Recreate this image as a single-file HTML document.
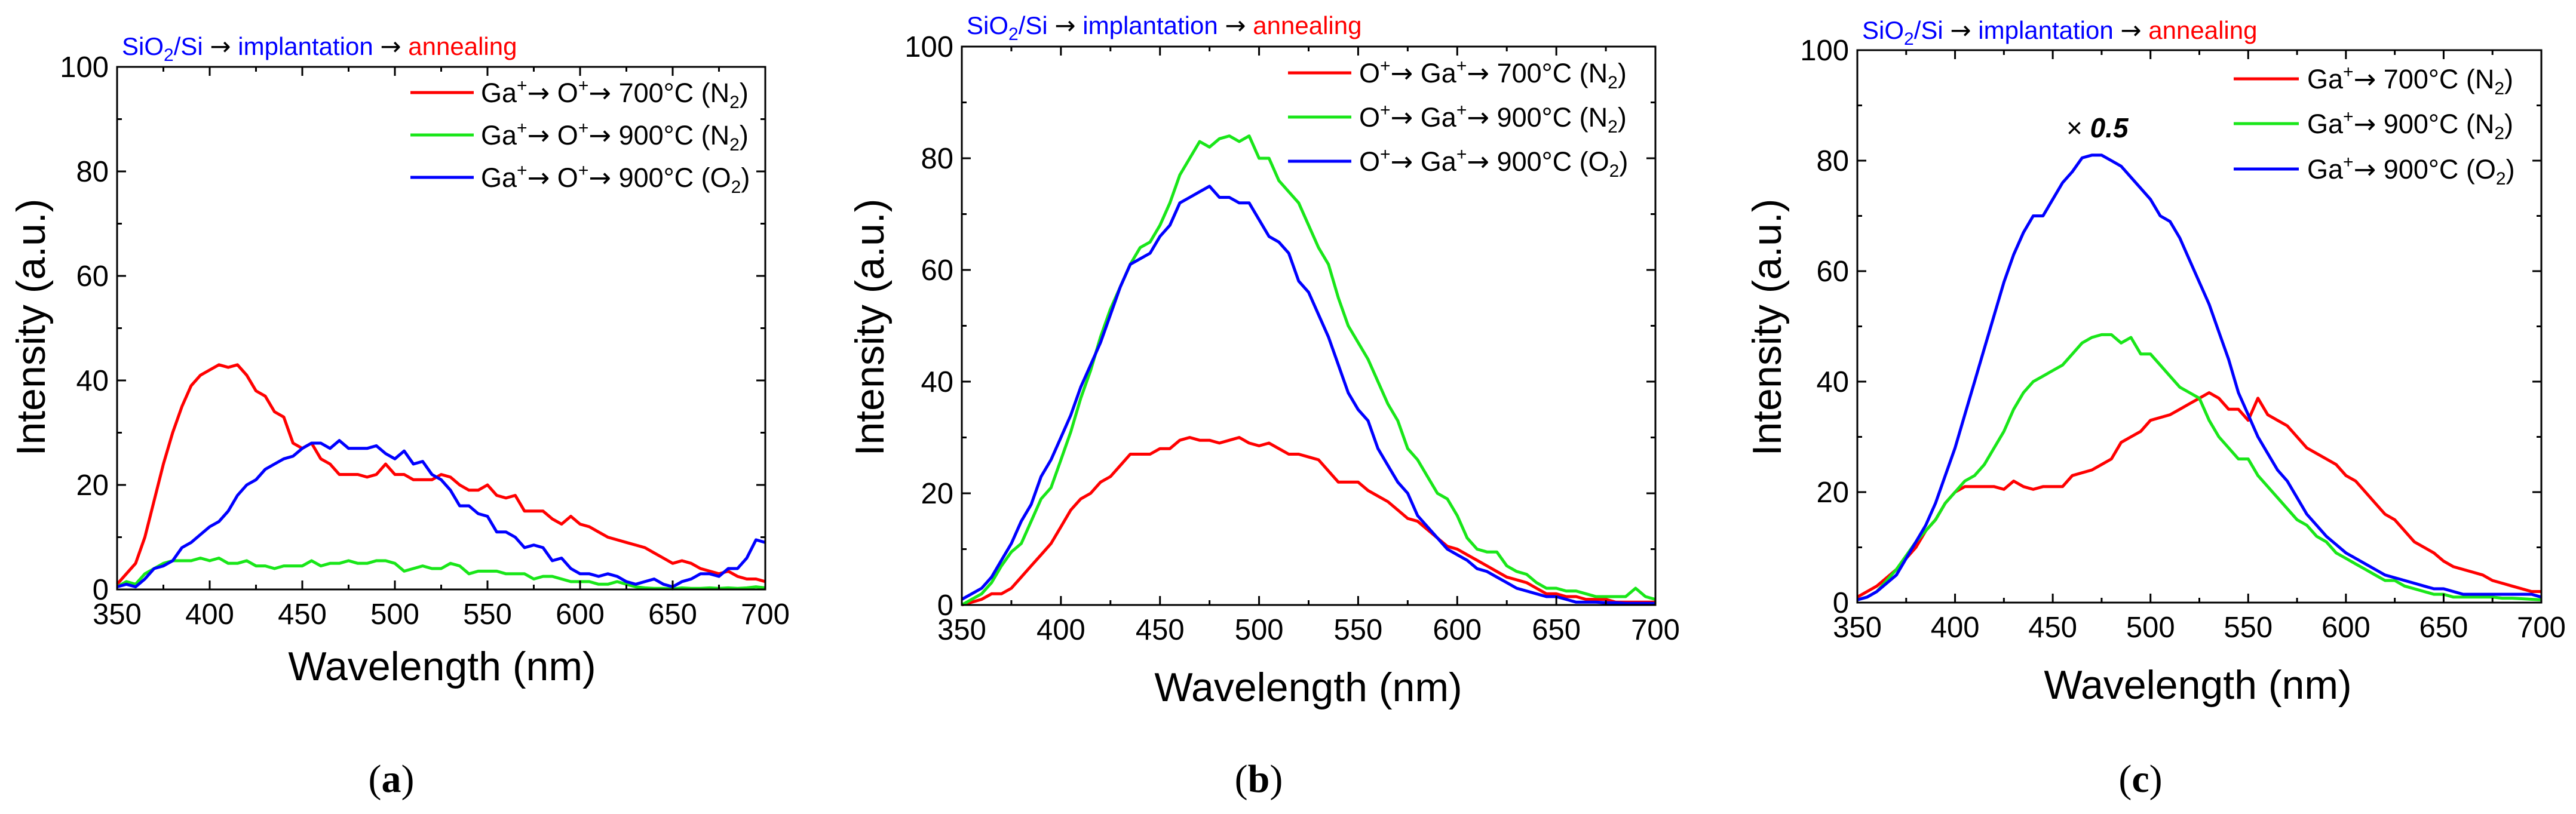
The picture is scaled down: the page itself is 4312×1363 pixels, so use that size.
<!DOCTYPE html>
<html><head><meta charset="utf-8"><style>
html,body{margin:0;padding:0;background:#fff;}
svg{display:block;font-family:"Liberation Sans",sans-serif;}
</style></head><body>
<svg id="fig" width="4312" height="1363" viewBox="0 0 4312 1363" xmlns="http://www.w3.org/2000/svg"></svg>
<script>
const wavelengths=[350,355,360,365,370,375,380,385,390,395,400,405,410,415,420,425,430,435,440,445,450,455,460,465,470,475,480,485,490,495,500,505,510,515,520,525,530,535,540,545,550,555,560,565,570,575,580,585,590,595,600,605,610,615,620,625,630,635,640,645,650,655,660,665,670,675,680,685,690,695,700];
const xTicks=[350,400,450,500,550,600,650,700];
const yTicks=[0,20,40,60,80,100];
// panel a
const aRed=[1,3,5,10,17,24,30,35,39,41,42,43,42.5,43,41,38,37,34,33,28,27,28,25,24,22,22,22,21.5,22,24,22,22,21,21,21,22,21.5,20,19,19,20,18,17.5,18,15,15,15,13.5,12.5,14,12.5,12,11,10,9.5,9,8.5,8,7,6,5,5.5,5,4,3.5,3,3.5,2.5,2,2,1.5];
const aGreen=[0.5,1.5,1,3,4,5,5.5,5.5,5.5,6,5.5,6,5,5,5.5,4.5,4.5,4,4.5,4.5,4.5,5.5,4.5,5,5,5.5,5,5,5.5,5.5,5,3.5,4,4.5,4,4,5,4.5,3,3.5,3.5,3.5,3,3,3,2,2.5,2.5,2,1.5,1.5,1.5,1,1,1.5,1,0.5,0.3,0.2,0.2,0.1,0.3,0.2,0.2,0.3,0.2,0.3,0.2,0.3,0.5,0.3];
const aBlue=[0.5,1,0.5,2,4,4.5,5.5,8,9,10.5,12,13,15,18,20,21,23,24,25,25.5,27,28,28,27,28.5,27,27,27,27.5,26,25,26.5,24,24.5,22,21,19,16,16,14.5,14,11,11,10,8,8.5,8,5.5,6,4,3,3,2.5,3,2.5,1.5,1,1.5,2,1,0.5,1.5,2,3,3,2.5,4,4,6,9.5,9];
// panel b
const bRed=[0,0.5,1,2,2,3,5,7,9,11,14,17,19,20,22,23,25,27,27,27,28,28,29.5,30,29.5,29.5,29,29.5,30,29,28.5,29,28,27,27,26.5,26,24,22,22,22,20.5,19.5,18.5,17,15.5,15,13.5,12,10.5,10,9,8,7,6,5,4.5,4,3,2,2,1.5,1.5,1,1,1,0.5,0.5,0.5,0.5,0.5];
const bGreen=[0,1,2,4,7,9.5,11,15,19,21,26,31,37,42,48,53,57,61,64,65,68,72,77,80,83,82,83.5,84,83,84,80,80,76,74,72,68,64,61,55,50,47,44,40,36,33,28,26,23,20,19,16,12,10,9.5,9.5,7,6,5.5,4,3,3,2.5,2.5,2,1.5,1.5,1.5,1.5,3,1.5,1];
const bBlue=[1,2,3,5,8,11,15,18,23,26,30,34,39,43,47,52,57,61,62,63,66,68,72,73,74,75,73,73,72,72,69,66,65,63,58,56,52,48,43,38,35,33,28,25,22,20,16,14,12,10,9,8,6.5,6,5,4,3,2.5,2,1.5,1.5,1,0.5,0.5,0.5,0.4,0.4,0.3,0.3,0.3,0.3];
// panel c
const cRed=[1,2,3,4.5,6,8,10,13,15,18,20,21,21,21,21,20.5,22,21,20.5,21,21,21,23,23.5,24,25,26,29,30,31,33,33.5,34,35,36,37,38,37,35,35,33,37,34,33,32,30,28,27,26,25,23,22,20,18,16,15,13,11,10,9,7.5,6.5,6,5.5,5,4,3.5,3,2.5,2,2];
const cGreen=[0.5,1,2,4,6,8.5,11,13,15,18,20,22,23,25,28,31,35,38,40,41,42,43,45,47,48,48.5,48.5,47,48,45,45,43,41,39,38,37,33,30,28,26,26,23,21,19,17,15,14,12,11,9,8,7,6,5,4,4,3,2.5,2,1.5,1.5,1,1,1,1,1,0.8,0.8,0.7,0.6,0.5];
const cBlue=[0.5,1,2,3.5,5,8,11,14,18,23,28,34,40,46,52,58,63,67,70,70,73,76,78,80.5,81,81,80,79,77,75,73,70,69,66,62,58,54,49,44,38,34,30,27,24,22,19,16,14,12,10.5,9,8,7,6,5,4.5,4,3.5,3,2.5,2.5,2,1.5,1.5,1.5,1.5,1.5,1.5,1.5,1.5,1];

const NS="http://www.w3.org/2000/svg";
const svg=document.getElementById('fig');
function mk(tag,attrs,parent){const e=document.createElementNS(NS,tag);for(const k in attrs)e.setAttribute(k,attrs[k]);(parent||svg).appendChild(e);return e;}
const RED="#ff0000",GREEN="#19e619",BLUE="#0000ff";
const ARR='<tspan font-family="DejaVu Sans, sans-serif">→</tspan>';

const panels=[
 {id:'a',L:196,R:1281,T:112,B:987,title:[204,92],xl:[740,1139],pl:[655,1326],yl:[51,548],
  leg:{x1:687,x2:793,tx:805,ys:[155,226,297],labels:[['Ga','O','700'],['Ga','O','900'],['Ga','O','900']]},
  series:[aRed,aGreen,aBlue]},
 {id:'b',L:1610,R:2771,T:78,B:1013,title:[1618,57],xl:[2190,1174],pl:[2107,1326],yl:[1455,548],
  leg:{x1:2156,x2:2262,tx:2275,ys:[122,196,270],labels:[['O','Ga','700'],['O','Ga','900'],['O','Ga','900']]},
  series:[bRed,bGreen,bBlue]},
 {id:'c',L:3109,R:4254,T:84,B:1009,title:[3117,65],xl:[3679,1170],pl:[3583,1326],yl:[2957,548],
  leg:{x1:3739,x2:3848,tx:3862,ys:[132,207,283],labels:[['Ga',null,'700'],['Ga',null,'900'],['Ga',null,'900']]},
  series:[cRed,cGreen,cBlue]}
];
const gases=['N','N','O'];
const colors=[RED,GREEN,BLUE];
const seriesNames=['series-700c-n2','series-900c-n2','series-900c-o2'];

panels.forEach(p=>{
  const g=mk('g',{});
  
  
  const xs=v=>p.L+(v-350)/350*(p.R-p.L);
  const ys=v=>p.B-v/100*(p.B-p.T);
  p.series.forEach((arr,i)=>{
    let d='';
    arr.forEach((v,j)=>{d+=(j?'L':'M')+xs(wavelengths[j]).toFixed(1)+','+ys(v).toFixed(1);});
    const path=mk('path',{d:d,fill:'none',stroke:colors[i],'stroke-width':5,'stroke-linejoin':'round'},g);
    
    
  });
  const fr=mk('rect',{x:p.L,y:p.T,width:p.R-p.L,height:p.B-p.T,fill:'none',stroke:'#000','stroke-width':3},g);
  
  
  for(let v=350;v<=700;v+=25){
    const maj=(v%50===0);const len=maj?15:8;const x=xs(v);
    mk('line',{x1:x,y1:p.B,x2:x,y2:p.B-len,stroke:'#000','stroke-width':3},g);
    mk('line',{x1:x,y1:p.T,x2:x,y2:p.T+len,stroke:'#000','stroke-width':3},g);
  }
  xTicks.forEach(v=>{
    const t=mk('text',{x:xs(v),y:p.B+58,'font-size':49,'text-anchor':'middle',fill:'#000'},g);
    t.textContent=v;
    
    
  });
  for(let v=0;v<=100;v+=10){
    const maj=(v%20===0);const len=maj?15:8;const y=ys(v);
    mk('line',{x1:p.L,y1:y,x2:p.L+len,y2:y,stroke:'#000','stroke-width':3},g);
    mk('line',{x1:p.R,y1:y,x2:p.R-len,y2:y,stroke:'#000','stroke-width':3},g);
  }
  yTicks.forEach(v=>{
    const t=mk('text',{x:p.L-14,y:ys(v)+17,'font-size':49,'text-anchor':'end',fill:'#000'},g);
    t.textContent=v;
    
    
  });
  const xt=mk('text',{x:p.xl[0],y:p.xl[1],'font-size':68,'text-anchor':'middle',fill:'#000'},g);
  xt.textContent='Wavelength (nm)';
  
  
  const yt=mk('text',{x:0,y:0,'font-size':68,'text-anchor':'middle',fill:'#000',transform:'translate('+(p.yl[0]+24)+','+p.yl[1]+') rotate(-90)'},g);
  yt.textContent='Intensity (a.u.)';
  
  
  const pl=mk('text',{x:p.pl[0],y:p.pl[1],'font-size':66,'text-anchor':'middle',fill:'#000','font-family':'Liberation Serif, serif'},g);
  pl.innerHTML='(<tspan font-weight="bold">'+p.id+'</tspan>)';
  
  
  const tt=mk('text',{x:p.title[0],y:p.title[1],'font-size':42,fill:BLUE},g);
  tt.innerHTML='SiO<tspan font-size="30" dy="10">2</tspan><tspan dy="-10">/Si </tspan><tspan fill="#000" font-family="DejaVu Sans, sans-serif">→</tspan> implantation <tspan fill="#000" font-family="DejaVu Sans, sans-serif">→</tspan> <tspan fill="'+RED+'">annealing</tspan>';
  
  
  p.leg.ys.forEach((y,i)=>{
    const ln=mk('line',{x1:p.leg.x1,y1:y,x2:p.leg.x2,y2:y,stroke:colors[i],'stroke-width':5},g);
    
    
    const lab=p.leg.labels[i];
    const t=mk('text',{x:p.leg.tx,y:y+16,'font-size':45,fill:'#000'},g);
    let h=lab[0]+'<tspan font-size="30" dy="-18">+</tspan><tspan dy="18">'+ARR+' </tspan>';
    if(lab[1])h+=lab[1]+'<tspan font-size="30" dy="-18">+</tspan><tspan dy="18">'+ARR+' </tspan>';
    h+=lab[2]+'°C ('+gases[i]+'<tspan font-size="30" dy="10">2</tspan><tspan dy="-10">)</tspan>';
    t.innerHTML=h;
    
    
  });
});
const sc=mk('text',{x:3459,y:230,'font-size':46,fill:'#000'});
sc.innerHTML='× <tspan font-weight="bold" font-style="italic">0.5</tspan>';


</script>
</body></html>
